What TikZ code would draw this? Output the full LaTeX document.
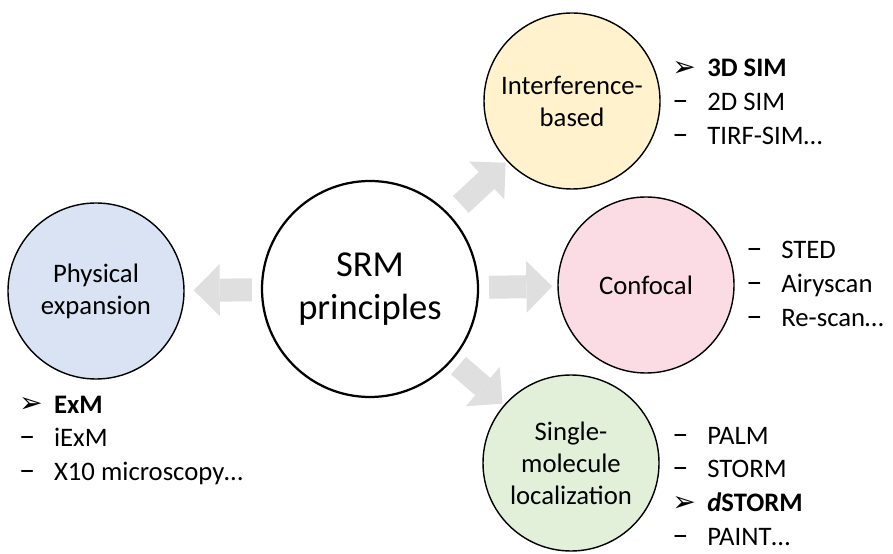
\documentclass[tikz,border=0pt]{standalone}
\usepackage{fontspec}
\setmainfont{Carlito}
\newfontfamily\symfont{DejaVu Sans}
\usetikzlibrary{arrows.meta}
\definecolor{physblue}{HTML}{DAE3F3}
\definecolor{intyellow}{HTML}{FFF2CC}
\definecolor{confpink}{HTML}{FBDCE4}
\definecolor{smlgreen}{HTML}{E2F0D9}
\definecolor{arrowgray}{HTML}{DFDFDF}
\newcommand{\hd}{{\symfont\fontsize{20}{20}\selectfont ➢}}
\newcommand{\dsh}{{\fontsize{23}{23}\selectfont –}}
\newcommand{\mkbox}[1]{\makebox[0.875cm][l]{#1}}
\tikzset{
  disc/.style={circle, draw, line width=1pt, minimum size=4.4cm, inner sep=0pt, align=center},
  bigarrow/.style={arrowgray, line width=0.575cm, -{Triangle[length=0.65cm,width=1.3cm,line width=0pt]}},
  item/.style={anchor=base west, inner sep=0pt}
}
\begin{document}
\begin{tikzpicture}[every node/.style={font=\fontsize{19}{22.8}\selectfont}]
\useasboundingbox (0,0) rectangle (22.325,13.825);
\node[disc, line width=1.6pt, minimum size=5.4cm, font=\fontsize{26}{30.6}\selectfont] (srm) at (9.25,6.6) {SRM\\principles};
\node[disc, fill=physblue] (phys) at (2.4,6.55) {Physical\\expansion};
\node[disc, fill=intyellow] (inter) at (14.3,11.3) {Interference-\\based};
\node[disc, fill=confpink] (conf) at (16.15,6.7) {Confocal};
\node[disc, fill=smlgreen] (single) at (14.275,2.25) {Single-\\molecule\\localization};
\draw[bigarrow, shorten <=0.225cm, shorten >=0.225cm] (srm) -- (phys);
\draw[bigarrow, shorten <=0.25cm, shorten >=0.125cm] (srm) -- (conf);
\draw[bigarrow, shorten <=0.375cm, shorten >=0.05cm] (srm) -- (inter);
\draw[bigarrow, shorten <=0.2cm, shorten >=0.05cm] (srm) -- (single);
\foreach \mk/\txt [count=\i from 0] in {\hd/\textbf{3D SIM}, \dsh/2D SIM, \dsh/TIRF-SIM…}
  \node[item] (intitem\i) at (16.8,11.9-0.84*\i) {\mkbox{\mk}\txt};
\foreach \mk/\txt [count=\i from 0] in {\dsh/STED, \dsh/Airyscan, \dsh/Re-scan…}
  \node[item] (confitem\i) at (18.65,7.35-0.84*\i) {\mkbox{\mk}\txt};
\foreach \mk/\txt [count=\i from 0] in {\hd/\textbf{ExM}, \dsh/iExM, \dsh/X10 microscopy…}
  \node[item] (physitem\i) at (0.47,3.5-0.84*\i) {\mkbox{\mk}\txt};
\foreach \mk/\txt [count=\i from 0] in {\dsh/PALM, \dsh/STORM, \hd/\textbf{\textit{d}STORM}, \dsh/PAINT…}
  \node[item] (smlitem\i) at (16.8,2.72-0.84*\i) {\mkbox{\mk}\txt};
\end{tikzpicture}
\end{document}
